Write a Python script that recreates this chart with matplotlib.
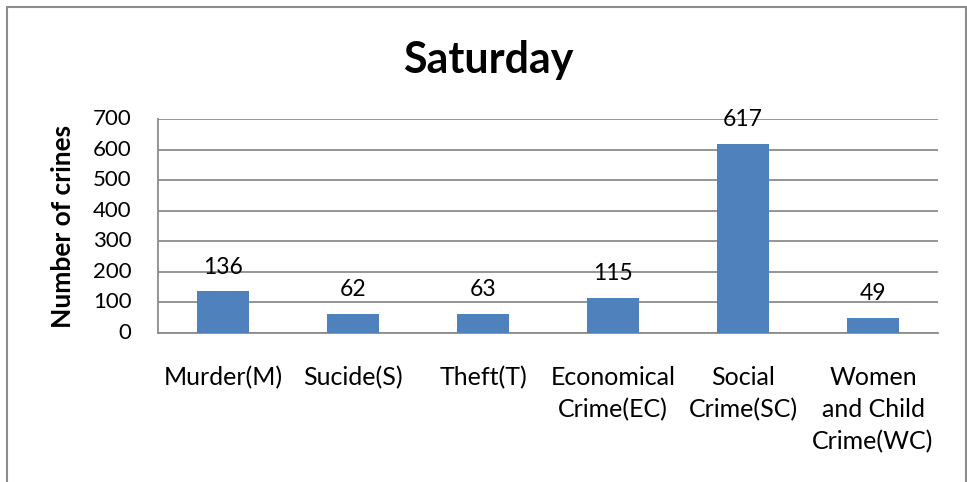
import matplotlib
matplotlib.use("Agg")
import matplotlib.pyplot as plt
from matplotlib.patches import Rectangle

categories = ["Murder(M)", "Sucide(S)", "Theft(T)", "Economical\nCrime(EC)",
              "Social\nCrime(SC)", "Women\nand Child\nCrime(WC)"]
values = [136, 62, 63, 115, 617, 49]
yticks = [0, 100, 200, 300, 400, 500, 600, 700]

plt.rcParams['font.family'] = ['Lato', 'DejaVu Sans']

W, H = 967, 482
fig = plt.figure(figsize=(W / 100, H / 100), dpi=100)
ax = fig.add_axes([158 / W, 1 - 333 / H, (938 - 158) / W, (333 - 119) / H])

x = list(range(len(categories)))
bars = ax.bar(x, values, width=0.4, color="#4F81BD", zorder=3)
ax.set_xlim(-0.5, len(categories) - 0.5)
ax.set_ylim(0, 700)
ax.set_yticks(yticks)
ax.set_yticklabels([str(v) for v in yticks], fontsize=16)
ax.set_xticks(x)
ax.set_xticklabels(categories, fontsize=18, linespacing=1.47, va="top")
ax.tick_params(axis="x", length=0, pad=24)
ax.tick_params(axis="y", length=0, pad=19)
for lbl in ax.get_yticklabels():
    lbl.set_verticalalignment("center")

ax.grid(axis="y", color="#8c8c8c", linewidth=1.3, zorder=0)
for s in ["top", "right"]:
    ax.spines[s].set_visible(False)
for s in ["left", "bottom"]:
    ax.spines[s].set_color("#8c8c8c")
    ax.spines[s].set_linewidth(1.3)

for xi, v in zip(x, values):
    ax.annotate(str(v), (xi, v), xytext=(0, 10), textcoords="offset points",
                ha="center", va="bottom", fontsize=16.5, zorder=4)

ax.set_ylabel("Number of crines", fontsize=19, fontweight="bold")
ax.yaxis.set_label_coords(-(158 - 75) / (938 - 158), 0.5)

fig.text(488 / W, 1 - 60 / H, "Saturday", fontsize=31, fontweight="bold",
         ha="center", va="center")

fig.patches.append(Rectangle((7 / W, -0.02), (966 - 7) / W, (482 - 7) / H + 0.02,
                             transform=fig.transFigure, fill=False,
                             edgecolor="#8c8c8c", linewidth=1.5))

fig.savefig("out.png", dpi=100)
